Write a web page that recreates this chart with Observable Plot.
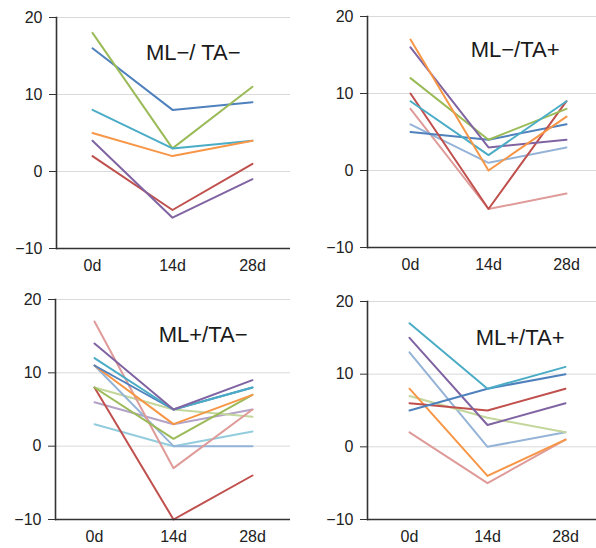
<!DOCTYPE html>
<html><head><meta charset="utf-8">
<script src="https://cdn.jsdelivr.net/npm/d3@7"></script>
<script src="https://cdn.jsdelivr.net/npm/@observablehq/plot@0.6"></script>
<style>
body{margin:0;background:#fff}
#chart{position:relative;width:596px;height:548px;font-family:"Liberation Sans",Arial,sans-serif}
#chart svg{position:absolute}
</style>
</head><body><div id="chart"></div>
<script>
const days = ["0d", "14d", "28d"];
const yTicks = [-10, 0, 10, 20];
const gridTicks = [0, 10, 20];
const panelTitles = ["ML−/ TA−", "ML−/TA+", "ML+/TA−", "ML+/TA+"];

const seriesKeys = ["S-blue", "S-red", "S-green", "S-purple", "S-aqua", "S-orange", "S-lightblue", "S-pink", "S-lightgreen", "S-lightpurple", "S-lightaqua"];
const seriesColors = ["#4F81BD", "#C0504D", "#9BBB59", "#8064A2", "#4BACC6", "#F79646", "#95B3D7", "#DE9B99", "#C3D69B", "#B3A2C7", "#93CDDD"];

// Panel 1: ML−/ TA−
const p1Series = ["S-blue", "S-red", "S-green", "S-purple", "S-aqua", "S-orange"];
const p1Values = [[16, 8, 9], [2, -5, 1], [18, 3, 11], [4, -6, -1], [8, 3, 4], [5, 2, 4]];

// Panel 2: ML−/TA+
const p2Series = ["S-pink", "S-lightblue", "S-blue", "S-red", "S-green", "S-purple", "S-aqua", "S-orange"];
const p2Values = [[8, -5, -3], [6, 1, 3], [5, 4, 6], [10, -5, 9], [12, 4, 8], [16, 3, 4], [9, 2, 9], [17, 0, 7]];

// Panel 3: ML+/TA−
const p3Series = ["S-lightaqua", "S-lightpurple", "S-lightgreen", "S-lightblue", "S-pink", "S-red", "S-green", "S-orange", "S-blue", "S-aqua", "S-purple"];
const p3Values = [[3, 0, 2], [6, 3, 5], [8, 5, 4], [11, 0, 0], [17, -3, 5], [8, -10, -4], [8, 1, 7], [11, 3, 7], [11, 5, 8], [12, 5, 8], [14, 5, 9]];

// Panel 4: ML+/TA+
const p4Series = ["S-pink", "S-lightblue", "S-lightgreen", "S-orange", "S-red", "S-purple", "S-blue", "S-aqua"];
const p4Values = [[2, -5, 1], [13, 0, 2], [7, 4, 2], [8, -4, 1], [6, 5, 8], [15, 3, 6], [5, 8, 10], [17, 8, 11]];

function toRows(series, values) {
  return series.flatMap((s, i) => days.map((d, j) => ({series: s, day: d, value: values[i][j]})));
}

const panels = [
  {series: p1Series, values: p1Values, title: panelTitles[0], left: 0, top: 0, width: 296, height: 280,
   mt: 17, mb: 32, ml: 56, mr: 6, il: 36, ir: 38, tdx: -50, tdy: 35, pad: 11},
  {series: p2Series, values: p2Values, title: panelTitles[1], left: 296, top: 0, width: 300, height: 280,
   mt: 16, mb: 33, ml: 71, mr: 0, il: 42, ir: 30, tdx: -37, tdy: 33, pad: 11},
  {series: p3Series, values: p3Values, title: panelTitles[2], left: 0, top: 280, width: 296, height: 268,
   mt: 19, mb: 29, ml: 55, mr: 6, il: 39, ir: 38, tdx: -43, tdy: 35, pad: 11},
  {series: p4Series, values: p4Values, title: panelTitles[3], left: 296, top: 280, width: 300, height: 268,
   mt: 21, mb: 29, ml: 71, mr: 0, il: 42, ir: 31, tdx: -32, tdy: 36, pad: 11}
];

const host = document.getElementById("chart");
for (const p of panels) {
  const svg = Plot.plot({
    width: p.width, height: p.height,
    marginTop: p.mt, marginBottom: p.mb, marginLeft: p.ml, marginRight: p.mr,
    style: {fontFamily: '"Liberation Sans", Arial, sans-serif', fontSize: "16px", color: "#222", background: "transparent", overflow: "visible"},
    x: {type: "point", domain: days, padding: 0, insetLeft: p.il, insetRight: p.ir},
    y: {domain: [-10, 20]},
    color: {type: "ordinal", domain: seriesKeys, range: seriesColors},
    marks: [
      Plot.ruleY(gridTicks, {stroke: "#d9d9d9", strokeWidth: 1}),
      Plot.line(toRows(p.series, p.values), {x: "day", y: "value", z: "series", stroke: "series", strokeWidth: 2}),
      Plot.ruleY([-10], {stroke: "#333", strokeWidth: 1.6}),
      Plot.frame({anchor: "left", stroke: "#333", strokeWidth: 1.6}),
      Plot.axisY({ticks: yTicks, tickSize: 7, tickPadding: 7, label: null, stroke: "#333", fontSize: 16}),
      Plot.axisX({tickSize: 0, tickPadding: p.pad, label: null, fontSize: 16}),
      Plot.text([p.title], {frameAnchor: "top-right", textAnchor: "end", lineAnchor: "middle", dx: p.tdx, dy: p.tdy, fontSize: 22, fill: "#1a1a1a"})
    ]
  });
  svg.style.left = p.left + "px";
  svg.style.top = p.top + "px";
  host.appendChild(svg);
}
</script>
</body></html>
